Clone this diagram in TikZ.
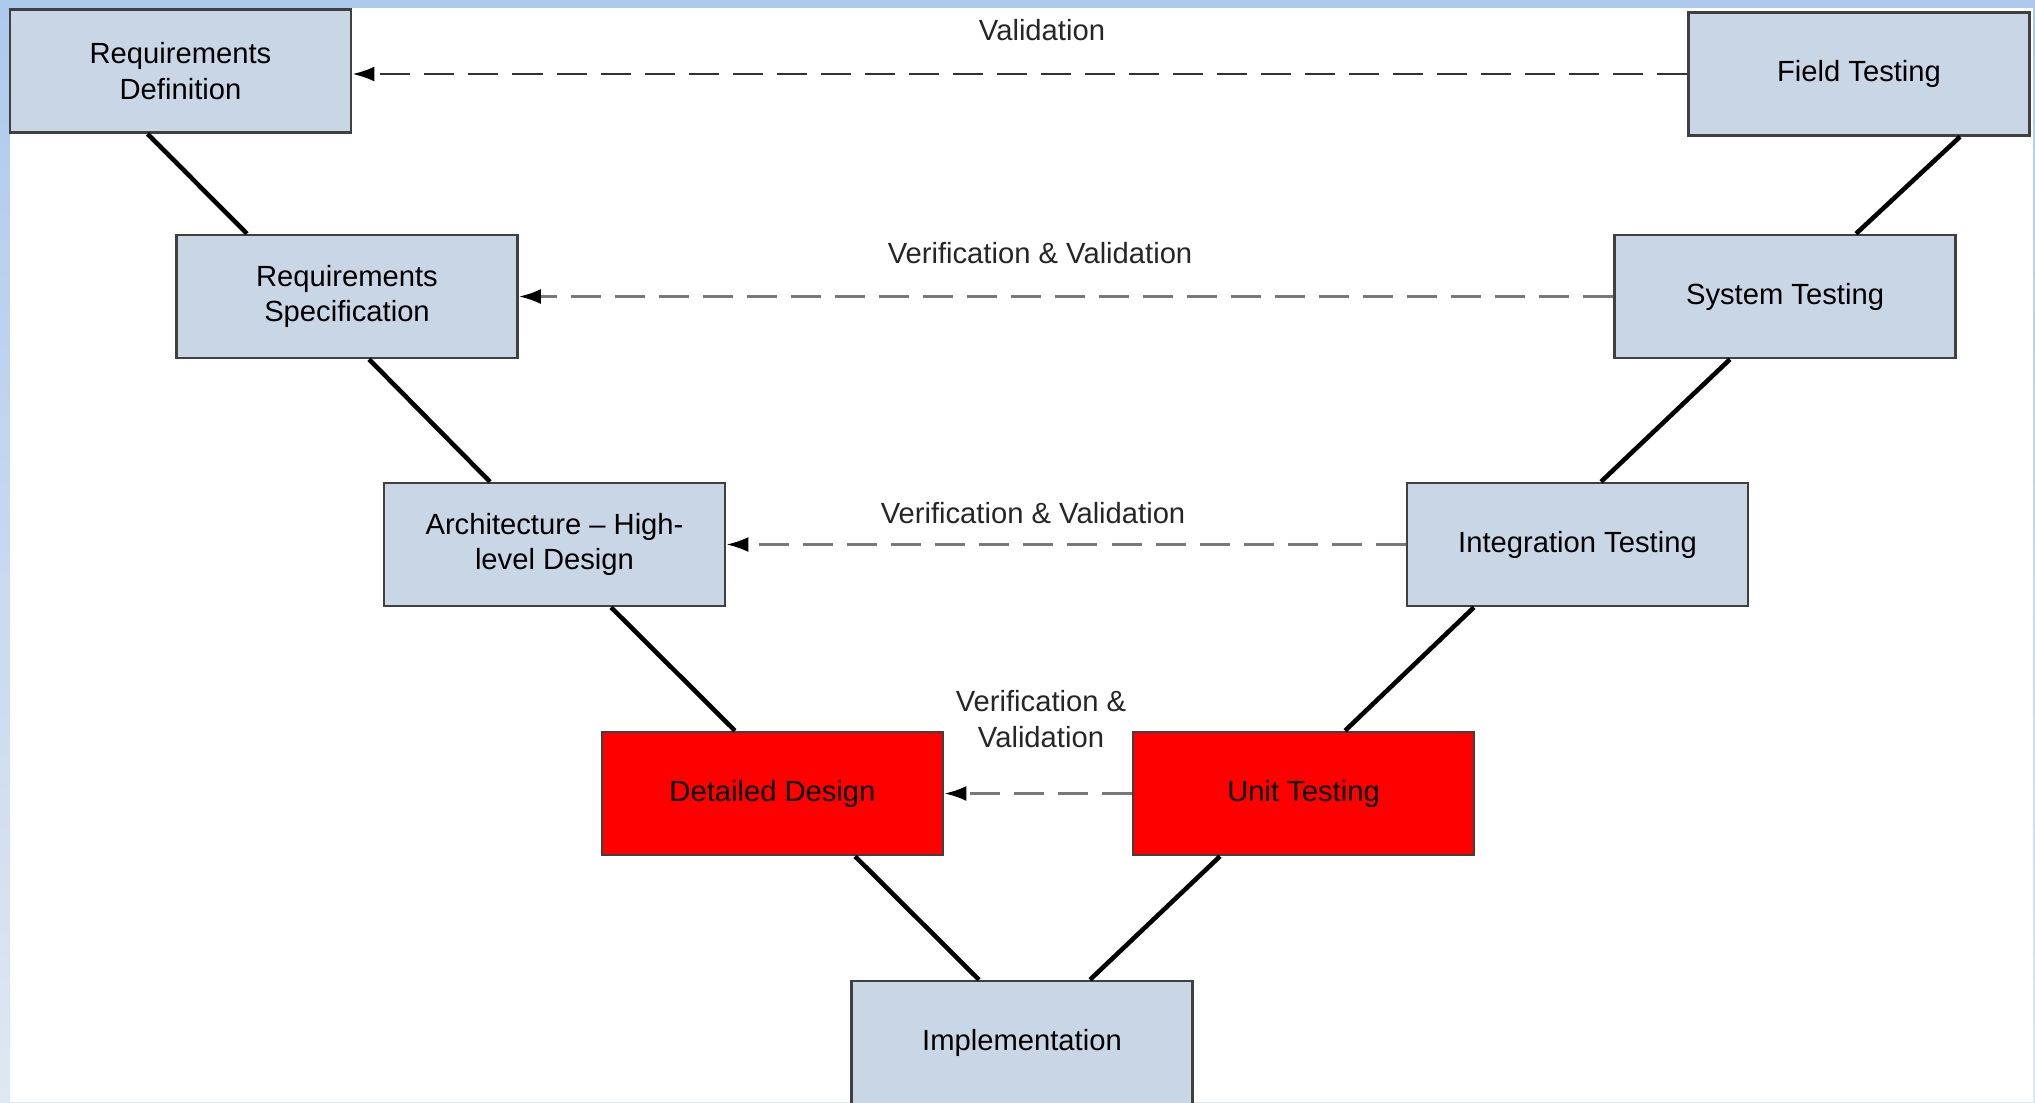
\documentclass[tikz,border=0pt]{standalone}
\usepackage{fontspec}
\setmainfont{Liberation Sans}
\usetikzlibrary{arrows.meta,calc}

\begin{document}
\begin{tikzpicture}[x=0.01cm,y=-0.01cm,
  >={Latex[length=0.22cm,width=0.15cm,color=black]},
  stage/.style={draw=boxline,line width=0.7pt,fill=boxblue,minimum width=3.41cm,
    minimum height=1.23cm,inner sep=0pt,align=center,font=\fontsize{8.3}{10}\selectfont},
  hotstage/.style={stage,fill=red},
  leg/.style={line width=1.3pt,black},
  vv/.style={->,dash pattern=on 0.3cm off 0.14cm,line width=0.8pt,draw=dashgray},
  vvtext/.style={align=center,text=black!85,font=\fontsize{8.3}{10}\selectfont}]

\definecolor{boxblue}{RGB}{201,214,230}
\definecolor{boxline}{RGB}{64,64,64}
\definecolor{dashgray}{RGB}{120,120,120}
\definecolor{edgetop}{RGB}{174,201,238}
\definecolor{edgebottom}{RGB}{223,231,242}

\useasboundingbox (0,0) rectangle (2035,1102);
\shade[top color=edgetop,bottom color=edgebottom] (0,0) rectangle (2035,1102);
\fill[white] (10,8) rectangle (2033,1102);

% left leg of the V
\node[stage] (rd) at (180.5,71) {Requirements\\Definition};
\node[stage] (rs) at (347,296.5) {Requirements\\Specification};
\node[stage] (ad) at (554.5,544.5) {Architecture -- High-\\level Design};
\node[hotstage] (dd) at (772.5,793.5) {Detailed Design};
\node[stage] (im) at (1022,1042.5) {Implementation};

% right leg of the V
\node[hotstage] (ut) at (1303.5,793.5) {Unit Testing};
\node[stage] (it) at (1577.5,544.5) {Integration Testing};
\node[stage] (st) at (1785,296.5) {System Testing};
\node[stage] (ft) at (1859,74) {Field Testing};

\draw[leg] ($(rd.south)+(-33,0)$) -- ($(rs.north)+(-100,0)$);
\draw[leg] ($(rs.south)+(22,0)$) -- ($(ad.north)+(-64.5,0)$);
\draw[leg] ($(ad.south)+(56.5,0)$) -- ($(dd.north)+(-37.5,0)$);
\draw[leg] ($(dd.south)+(82.5,0)$) -- ($(im.north)+(-43,0)$);
\draw[leg] ($(im.north)+(68,0)$) -- ($(ut.south)+(-83.5,0)$);
\draw[leg] ($(ut.north)+(41.5,0)$) -- ($(it.south)+(-103.5,0)$);
\draw[leg] ($(it.north)+(23.5,0)$) -- ($(st.south)+(-55,0)$);
\draw[leg] ($(st.north)+(71,0)$) -- ($(ft.south)+(101,0)$);

\draw[vv,draw=black!80] (ft.west) -- (rd.east |- ft.west);
\draw[vv] (st.west) -- (rs.east);
\draw[vv] (it.west) -- (ad.east);
\draw[vv] (ut.west) -- (dd.east);

\node[vvtext] (t1) at (1042,30) {Validation};
\node[vvtext] (t2) at (1040,253) {Verification \& Validation};
\node[vvtext] (t3) at (1033,513) {Verification \& Validation};
\node[vvtext] (t4) at (1041,719) {Verification \&\\Validation};

\end{tikzpicture}
\end{document}
